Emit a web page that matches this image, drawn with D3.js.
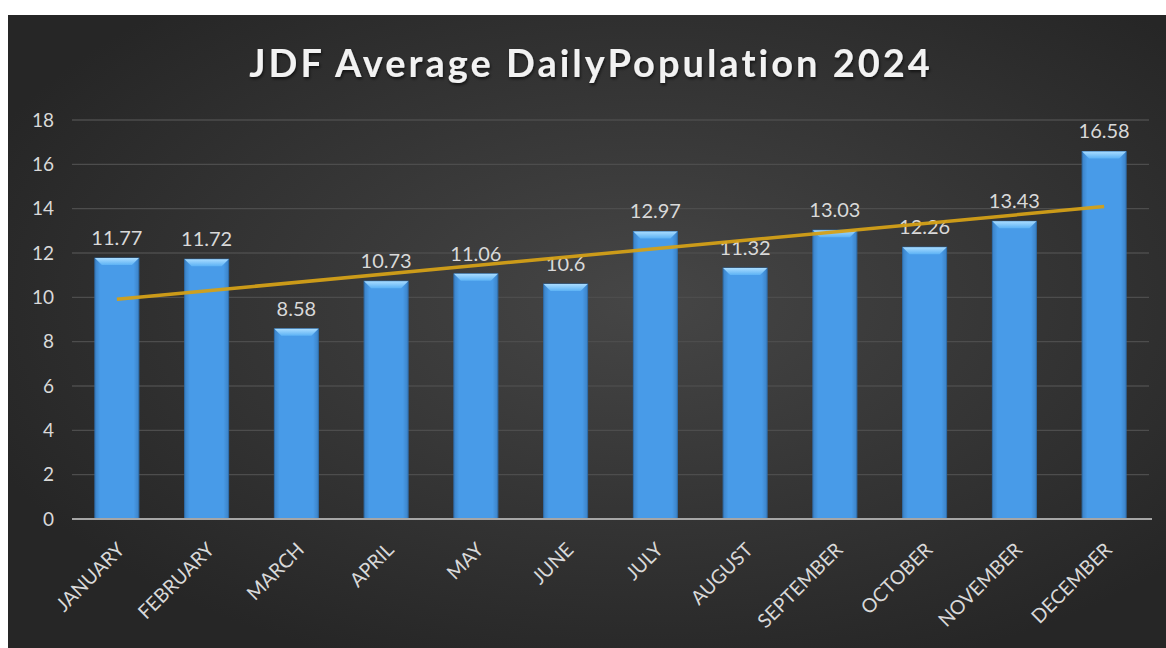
<!DOCTYPE html>
<html>
<head>
<meta charset="utf-8">
<script src="https://cdn.jsdelivr.net/npm/d3@7"></script>
<style>
  html, body { margin: 0; padding: 0; background: #ffffff; }
  svg { display: block; }
  text { font-family: Lato, "Open Sans", sans-serif; }
</style>
</head>
<body>
<div class="chart"></div>
<script>
"use strict";

// Chart data
const months = ["JANUARY", "FEBRUARY", "MARCH", "APRIL", "MAY", "JUNE",
  "JULY", "AUGUST", "SEPTEMBER", "OCTOBER", "NOVEMBER", "DECEMBER"];
const population = [11.77, 11.72, 8.58, 10.73, 11.06, 10.6,
  12.97, 11.32, 13.03, 12.26, 13.43, 16.58];
const yTicks = [0, 2, 4, 6, 8, 10, 12, 14, 16, 18];
const title = "JDF Average DailyPopulation 2024";

const data = months.map((m, i) => ({ month: m, value: population[i], label: String(population[i]) }));

const width = 1166;
const height = 648;
const margin = { left: 72, right: 17, top: 120, bottom: 129 };

const svg = d3.select(".chart")
  .append("svg")
    .attr("width", width)
    .attr("height", height);

const defs = svg.append("defs");

// Dark background with a soft lighter centre
const bg = defs.append("radialGradient")
    .attr("id", "bg")
    .attr("cx", "55%").attr("cy", "45%").attr("r", "62%");
bg.append("stop").attr("offset", "0%").attr("stop-color", "#464646");
bg.append("stop").attr("offset", "100%").attr("stop-color", "#262626");

// Bar body: slightly darker along the edges
const barGrad = defs.append("linearGradient")
    .attr("id", "barGrad")
    .attr("x1", "0").attr("x2", "1").attr("y1", "0").attr("y2", "0");
barGrad.append("stop").attr("offset", "0%").attr("stop-color", "#3c82c6");
barGrad.append("stop").attr("offset", "12%").attr("stop-color", "#489be8");
barGrad.append("stop").attr("offset", "88%").attr("stop-color", "#489be8");
barGrad.append("stop").attr("offset", "100%").attr("stop-color", "#3c82c6");

const bevelGrad = defs.append("linearGradient")
    .attr("id", "bevelGrad")
    .attr("x1", "0").attr("x2", "0").attr("y1", "0").attr("y2", "1");
bevelGrad.append("stop").attr("offset", "0%").attr("stop-color", "#a9dcff");
bevelGrad.append("stop").attr("offset", "100%").attr("stop-color", "#5cb2f5");

const shadow = defs.append("filter").attr("id", "titleShadow")
    .attr("x", "-5%").attr("y", "-20%").attr("width", "110%").attr("height", "150%");
shadow.append("feDropShadow")
    .attr("dx", 1).attr("dy", 2).attr("stdDeviation", 1.5)
    .attr("flood-color", "#000").attr("flood-opacity", 0.6);

svg.append("rect")
    .attr("x", 8).attr("y", 15)
    .attr("width", width - 8).attr("height", height - 15)
    .attr("fill", "url(#bg)");

const innerWidth = width - margin.left - margin.right;
const innerHeight = height - margin.top - margin.bottom;

const xScale = d3.scaleBand()
  .domain(months)
  .range([margin.left, margin.left + innerWidth])
  .paddingInner(0.51)
  .paddingOuter(0.255);

const yScale = d3.scaleLinear()
  .domain([0, 18])
  .range([margin.top + innerHeight, margin.top]);

// Title
svg.append("text")
    .attr("x", 591)
    .attr("y", 77)
    .attr("text-anchor", "middle")
    .attr("fill", "#f2f2f2")
    .attr("font-size", 38)
    .attr("font-weight", "bold")
    .attr("letter-spacing", 3)
    .attr("filter", "url(#titleShadow)")
    .text(title);

// Gridlines
svg.append("g")
  .selectAll("line")
  .data(yTicks.filter(d => d > 0))
  .join("line")
    .attr("x1", margin.left)
    .attr("x2", margin.left + innerWidth)
    .attr("y1", d => yScale(d))
    .attr("y2", d => yScale(d))
    .attr("stroke", "#4d4d4d")
    .attr("stroke-width", 1.3);

// Y axis
const yAxis = d3.axisLeft(yScale)
  .tickValues(yTicks)
  .tickSize(0)
  .tickPadding(18);

const yAxisG = svg.append("g")
    .attr("class", "axis-y")
    .attr("transform", `translate(${margin.left}, 0)`)
    .call(yAxis);
yAxisG.select(".domain").remove();
yAxisG.selectAll("text")
    .attr("fill", "#d9d9d9")
    .attr("font-size", 19)
    .attr("font-family", "Lato, 'Open Sans', sans-serif");

// Bars
const bars = svg.append("g")
  .selectAll("g")
  .data(data)
  .join("g")
    .attr("transform", d => `translate(${xScale(d.month)}, 0)`);

const bw = xScale.bandwidth();
const bevel = 7;

bars.append("rect")
    .attr("x", 0)
    .attr("y", d => yScale(d.value))
    .attr("width", bw)
    .attr("height", d => yScale(0) - yScale(d.value))
    .attr("fill", "url(#barGrad)")
    .attr("stroke", "#2f6fae")
    .attr("stroke-width", 1);

bars.append("path")
    .attr("d", d => {
      const y0 = yScale(d.value);
      return `M0,${y0} L${bw},${y0} L${bw - bevel},${y0 + bevel} L${bevel},${y0 + bevel} Z`;
    })
    .attr("fill", "url(#bevelGrad)");

// Data labels
svg.append("g")
  .selectAll("text")
  .data(data)
  .join("text")
    .attr("x", d => xScale(d.month) + bw / 2)
    .attr("y", d => yScale(d.value) - 13)
    .attr("text-anchor", "middle")
    .attr("fill", "#d9d9d9")
    .attr("font-size", 20)
    .text(d => d.label);

// Linear trendline (least squares over the monthly values)
const xs = data.map((d, i) => i + 1);
const meanX = d3.mean(xs);
const meanY = d3.mean(population);
const slope = d3.sum(xs, (x, i) => (x - meanX) * (population[i] - meanY)) /
  d3.sum(xs, x => (x - meanX) ** 2);
const intercept = meanY - slope * meanX;
const trend = [data[0], data[data.length - 1]].map(d => ({
  month: d.month,
  value: intercept + slope * (months.indexOf(d.month) + 1)
}));

const trendLine = d3.line()
  .x(d => xScale(d.month) + bw / 2)
  .y(d => yScale(d.value));

svg.append("path")
    .attr("d", trendLine(trend))
    .attr("fill", "none")
    .attr("stroke", "#d4a017")
    .attr("stroke-width", 3.5)
    .attr("stroke-opacity", 0.95);

// X axis
const xAxis = d3.axisBottom(xScale).tickSize(0).tickPadding(0);
const xAxisG = svg.append("g")
    .attr("class", "axis-x")
    .attr("transform", `translate(0, ${yScale(0)})`)
    .call(xAxis);
xAxisG.select(".domain")
    .attr("stroke", "#a6a6a6")
    .attr("stroke-width", 2)
    .attr("d", `M${margin.left},0H${margin.left + innerWidth + 3}`);
xAxisG.selectAll("text")
    .attr("fill", "#d9d9d9")
    .attr("font-size", 19.5)
    .attr("font-family", "Lato, 'Open Sans', sans-serif")
    .attr("text-anchor", "end")
    .attr("dy", 0)
    .attr("transform", "translate(9, 32) rotate(-45)")
    .attr("y", 0)
    .attr("x", 0);
</script>
</body>
</html>
